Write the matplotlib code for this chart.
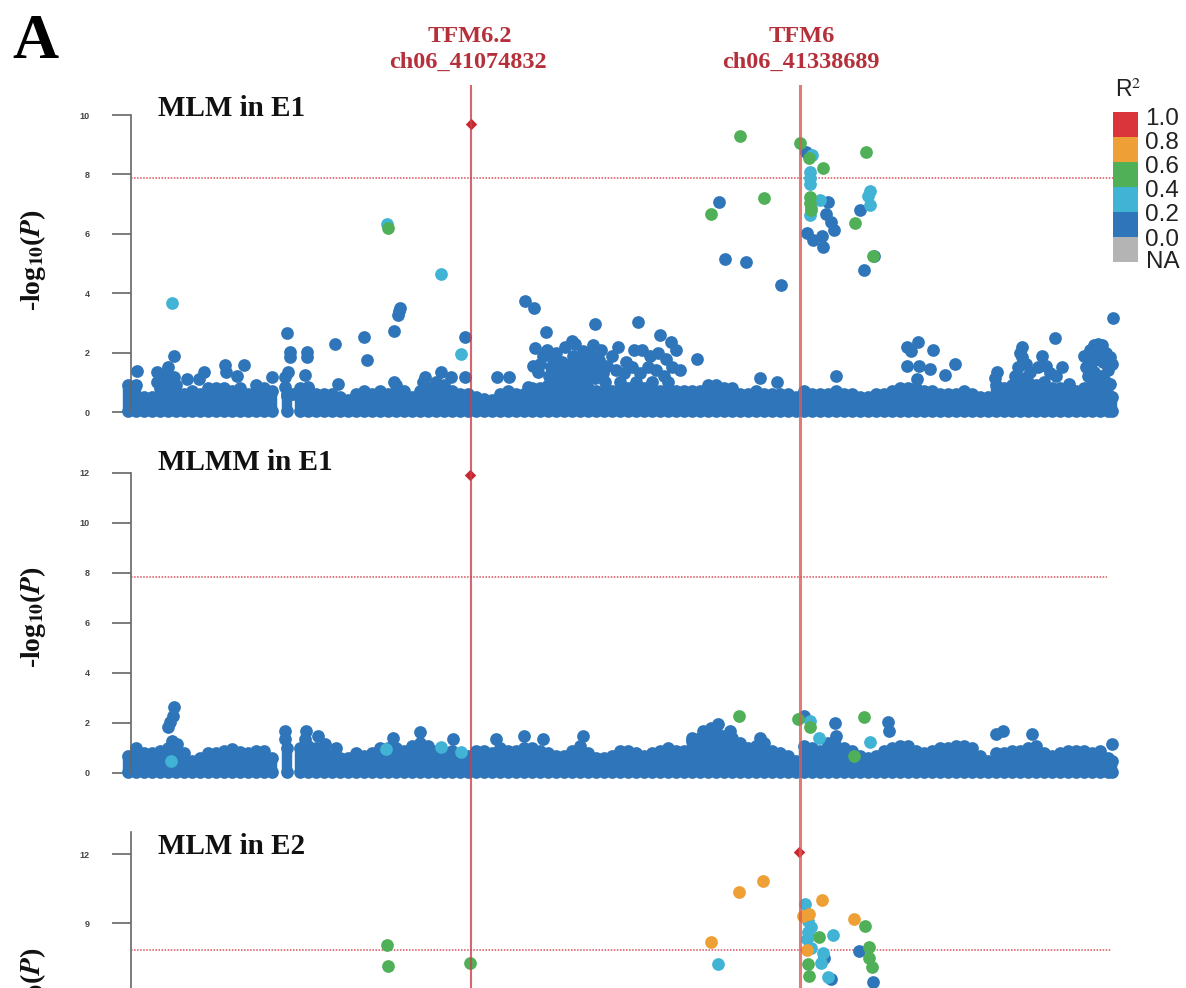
import matplotlib
matplotlib.use('Agg')
import matplotlib.pyplot as plt

plt.rcParams['font.family'] = ['Liberation Serif', 'DejaVu Serif']
plt.rcParams['mathtext.fontset'] = 'stix'

W, H = 1186, 988

BLUE = '#2e75b9'
LBLUE = '#41b3d5'
GREEN = '#50b058'
ORANGE = '#ee9f35'
RED = '#c9282f'
GREY = '#b4b4b4'
legend_colors = [GREY, BLUE, LBLUE, GREEN, ORANGE, '#d9353a']
legend_labels = ['NA', '0.0', '0.2', '0.4', '0.6', '0.8', '1.0']
legend_label_pos = [0.0, 0.147, 0.313, 0.473, 0.633, 0.793, 0.953]

# map position of the SNPs (no axis scale in the figure, so arbitrary units)
tfm_pos = [471, 800]

# the dense band of SNPs close to zero: position and height of the top of the band
base_x = [128, 136, 144, 152, 160, 168, 176, 184, 192, 200, 208, 216, 224, 232, 240, 248, 256, 264, 272, 287,
          300, 308, 316, 324, 332, 340, 348, 356, 364, 372, 380, 388, 396, 404, 412, 420, 428, 436, 444, 452,
          460, 468, 476, 484, 492, 500, 508, 516, 524, 532, 540, 548, 556, 564, 572, 580, 588, 596, 604, 612,
          620, 628, 636, 644, 652, 660, 668, 676, 684, 692, 700, 708, 716, 724, 732, 740, 748, 756, 764, 772,
          780, 788, 796, 804, 812, 820, 828, 836, 844, 852, 860, 868, 876, 884, 892, 900, 908, 916, 924, 932,
          940, 948, 956, 964, 972, 980, 988, 996, 1004, 1012, 1020, 1028, 1036, 1044, 1052, 1060, 1068, 1076,
          1084, 1092, 1100, 1108, 1112]
e1_mlm_top = [.9, .9, .5, .5, .8, .9, .9, .6, .7, .6, .8, .8, .8, .7, .8, .6, .7, .8, .7, .6,
              .8, .8, .6, .6, .6, .5, .4, .6, .7, .6, .7, .6, .9, .7, .5, .7, .8, .9, .9, .7,
              .6, .6, .5, .45, .4, .6, .7, .6, .6, .8, .8, .9, .9, .9, .9, .8, .8, .7, .7, .7,
              .7, .8, .8, .8, .7, .7, .8, .7, .7, .7, .7, .9, .9, .8, .8, .6, .6, .7, .6, .6,
              .6, .6, .5, .7, .6, .6, .6, .7, .6, .6, .5, .5, .6, .6, .7, .8, .8, .8, .7, .7,
              .6, .6, .6, .7, .6, .5, .5, .9, .8, .9, 1.1, 1.0, .9, 1.0, .8, .8, .7, .7,
              .8, .9, .9, .6, .5]
e1_mlmm_top = [.7, 1.0, .8, .8, .9, 1.0, 1.1, .8, .5, .6, .8, .8, .9, .95, .85, .8, .9, .9, .6, 1.0,
               1.0, 1.1, 1.0, .9, .7, .6, .6, .8, .7, .8, 1.0, 1.0, 1.0, .9, 1.1, 1.2, 1.1, .9, .8, .9,
               .6, .7, .9, .9, .8, 1.0, .9, .9, 1.0, 1.0, .9, .8, .7, .7, .9, 1.1, .8, .6, .6, .7,
               .9, .9, .8, .7, .8, .9, 1.0, .9, .9, 1.3, 1.4, 1.6, 1.7, 1.5, 1.4, 1.2, 1.0, 1.1, 1.2, .9,
               .8, .7, .5, 1.1, 1.0, .9, 1.2, 1.5, 1.0, .9, .7, .6, .7, .9, 1.0, 1.1, 1.1, .9, .8, .9,
               1.0, 1.0, 1.1, 1.1, 1.0, .7, .5, .8, .8, .9, .9, 1.0, 1.1, .8, .7, .8, .9, .9,
               .9, .8, .9, .6, .5]

# MLM in E1, single points above the band
e1_mlm_blue_x = [137, 157, 168, 174, 204, 225, 237, 244, 287, 290, 290, 288, 307, 307, 305, 335, 338, 364, 367,
                 394, 398, 399, 400, 465, 465, 441, 451, 425, 497, 509, 525, 534, 546, 535, 595, 528, 612, 618,
                 626, 634, 642, 650, 658, 666, 672, 680, 616, 624, 632, 640, 648, 656, 664, 620, 636, 652, 668,
                 638, 572, 660, 671, 676, 697, 1113, 1055, 918, 907, 911, 933, 955, 907, 919, 930, 945, 917,
                 760, 836, 777, 1069, 719, 725, 746, 781, 864, 860, 828, 806, 826, 831, 834, 807, 813, 822, 823,
                 874,
                 157, 164, 174, 187, 199, 226, 256, 272, 285, 285, 287, 293, 308, 394, 423, 436]
e1_mlm_blue_y = [1.39, 1.34, 1.5, 1.89, 1.36, 1.59, 1.22, 1.59, 2.65, 2.03, 1.84, 1.34, 2.03, 1.84, 1.25, 2.3, .95,
                 2.54, 1.76, 2.73, 3.28, 3.4, 3.5, 2.54, 1.17, 1.36, 1.17, 1.17, 1.17, 1.17, 3.73, 3.5, 2.7, 2.17,
                 2.95, .84, 1.9, 2.2, 1.7, 2.1, 2.1, 1.9, 2.0, 1.8, 1.5, 1.4, 1.4, 1.3, 1.5, 1.3, 1.5, 1.4, 1.2,
                 1.0, 1.0, 1.0, 1.0, 3.03, 2.4, 2.6, 2.35, 2.1, 1.8, 3.16, 2.49, 2.36, 2.2, 2.05, 2.1, 1.62, 1.55,
                 1.55, 1.45, 1.25, 1.1, 1.14, 1.2, 1.0, .93, 7.07, 5.15, 5.05, 4.27, 4.78, 6.8, 7.07, 8.75, 6.67,
                 6.4, 6.13, 6.03, 5.8, 5.93, 5.55, 5.25,
                 1.0, 1.17, 1.17, 1.1, 1.1, 1.33, .9, 1.17, 1.17, .85, .55, .6, .85, 1.0, 1.0, 1.0]
# clump of points near 580 in the MLM panel
e1_blob_x = [533, 538, 540, 543, 547, 549, 551, 553, 556, 558, 560, 562, 565, 567, 569, 571, 573, 575, 577, 579,
             581, 583, 585, 587, 589, 591, 593, 595, 597, 599, 601, 603, 605, 607]
e1_blob_y = [1.55, 1.35, 1.6, 1.9, 2.1, 1.2, 1.5, 1.8, 2.0, 1.1, 1.4, 1.7, 2.2, 1.0, 1.3, 1.6, 1.9, 2.3, 1.15, 1.45,
             1.75, 2.05, 1.0, 1.3, 1.6, 1.9, 2.25, 1.15, 1.45, 1.75, 2.1, 1.3, 1.0, 1.55]
# the same near the right end
e1_right_x = [997, 995, 1015, 1018, 1022, 1022, 1020, 1026, 1030, 1024, 1042, 1038, 1046, 1050, 1062, 1056, 1084,
              1086, 1088, 1090, 1094, 1098, 1102, 1106, 1110, 1112, 1092, 1097, 1103, 1108, 1094, 1100, 1105, 1110,
              1092]
e1_right_y = [1.35, 1.15, 1.2, 1.5, 1.85, 2.2, 2.0, 1.6, 1.35, 1.15, 1.9, 1.5, 1.55, 1.3, 1.5, 1.2, 1.9,
              1.5, 1.2, 2.1, 2.25, 2.3, 2.25, 2.0, 1.85, 1.6, 1.7, 1.9, 1.7, 1.4, 1.35, 1.2, 1.05, .95,
              1.05]
e1_mlm_lblue_x = [172, 387, 441, 461, 812, 810, 810, 810, 870, 868, 870, 810, 811, 820]
e1_mlm_lblue_y = [3.67, 6.33, 4.65, 1.95, 8.65, 8.08, 7.88, 7.68, 7.44, 7.27, 6.97, 6.63, 6.87, 7.14]
e1_mlm_green_x = [388, 740, 800, 866, 823, 711, 764, 855, 873, 810, 810, 811, 809]
e1_mlm_green_y = [6.2, 9.29, 9.05, 8.75, 8.2, 6.67, 7.2, 6.35, 5.25, 7.24, 7.04, 6.8, 8.55]

# MLMM in E1
e1_mlmm_blue_x = [174, 173, 170, 168, 172, 177, 285, 285, 306, 305, 318, 325, 336, 393, 420, 453, 496, 524, 543,
                  583, 804, 888, 889, 835, 1112, 1003, 996, 1032, 718, 711, 692, 730, 760, 703]
e1_mlmm_blue_y = [2.65, 2.3, 2.05, 1.85, 1.3, 1.15, 1.7, 1.35, 1.7, 1.35, 1.5, 1.15, 1.0, 1.4, 1.65, 1.35, 1.35,
                  1.5, 1.35, 1.5, 2.3, 2.05, 1.7, 2.0, 1.15, 1.7, 1.55, 1.55, 1.95, 1.8, 1.4, 1.7, 1.4, 1.7]
e1_mlmm_lblue_x = [171, 386, 441, 461, 810, 819, 870]
e1_mlmm_lblue_y = [.5, .95, 1.05, .85, 2.08, 1.4, 1.23]
e1_mlmm_green_x = [739, 798, 864, 854, 810]
e1_mlmm_green_y = [2.3, 2.15, 2.25, .67, 1.85]

# MLM in E2
e2_blue_x = [859, 873, 824, 831]
e2_blue_y = [7.78, 6.43, 7.48, 6.57]
e2_lblue_x = [718, 805, 811, 808, 807, 811, 833, 823, 821, 828, 808]
e2_lblue_y = [7.2, 9.83, 8.83, 8.6, 8.3, 7.9, 8.48, 7.7, 7.26, 6.65, 9.1]
e2_green_x = [865, 819, 869, 869, 872, 808, 809, 387, 388, 470]
e2_green_y = [8.87, 8.4, 7.96, 7.48, 7.1, 7.2, 6.7, 8.04, 7.13, 7.26]
e2_orange_x = [739, 763, 822, 854, 711, 809, 803, 807]
e2_orange_y = [10.35, 10.83, 10.0, 9.17, 8.17, 9.4, 9.3, 7.83]

lead_x = [471, 470, 799]
lead_y = [9.7, 11.9, 12.1]
threshold = [7.88, 7.84, 7.83]

xlim = (131, 1115)


def axes_px(left, top, right, bottom):
    return fig.add_axes([left / W, 1 - bottom / H, (right - left) / W, (bottom - top) / H])


def setup(ax, ymin, ymax, ticks, thr, thr_end, title, title_y, label_y):
    ax.set_xlim(xlim)
    ax.set_ylim(ymin, ymax)
    ax.patch.set_alpha(0)
    for s in ['top', 'right', 'bottom']:
        ax.spines[s].set_visible(False)
    ax.spines['left'].set_color('#666666')
    ax.spines['left'].set_linewidth(1.2)
    ax.set_xticks([])
    ax.set_yticks(ticks)
    ax.tick_params(axis='y', length=13.5, width=1.2, color='#666666', pad=16, labelsize=6.5, labelcolor='#444444')
    for t in ax.get_yticklabels():
        t.set_family('Liberation Sans')
        t.set_fontweight('bold')
    ax.hlines(thr, xlim[0], thr_end, color='#d8505c', lw=1.1, ls=(0, (1, 1)), zorder=1)
    fig.text(158 / W, 1 - title_y / H, title, fontsize=21, fontweight='bold', va='center', ha='left', color='#111111')
    fig.text(33 / W, 1 - label_y / H, r'-log$_{\mathbf{10}}$($\mathbfit{P}$)', fontsize=20, fontweight='bold',
             rotation=90, va='center', ha='center', color='#111111')


def dots(ax, x, y, color, z=3):
    ax.scatter(x, y, s=84, color=color, linewidths=0, clip_on=False, zorder=z)


def band(ax, tops):
    ax.vlines(base_x, 0.05, tops, color=BLUE, lw=7.5, zorder=2, clip_on=False)
    dots(ax, base_x, tops, BLUE, 2)
    dots(ax, base_x, [0.05] * len(base_x), BLUE, 2)


fig = plt.figure(figsize=(W / 100, H / 100), dpi=100)

# MLM in E1
ax1 = axes_px(131, 115, 1115, 412)
setup(ax1, 0, 10, [0, 2, 4, 6, 8, 10], threshold[0], 1113, 'MLM in E1', 108, 260)
band(ax1, e1_mlm_top)
dots(ax1, e1_mlm_blue_x, e1_mlm_blue_y, BLUE)
dots(ax1, e1_blob_x, e1_blob_y, BLUE)
dots(ax1, e1_right_x, e1_right_y, BLUE)
dots(ax1, e1_mlm_lblue_x, e1_mlm_lblue_y, LBLUE, 4)
dots(ax1, e1_mlm_green_x, e1_mlm_green_y, GREEN, 5)

# MLMM in E1
ax2 = axes_px(131, 473, 1115, 773)
setup(ax2, 0, 12, [0, 2, 4, 6, 8, 10, 12], threshold[1], 1107, 'MLMM in E1', 462, 617)
band(ax2, e1_mlmm_top)
dots(ax2, e1_mlmm_blue_x, e1_mlmm_blue_y, BLUE)
dots(ax2, e1_mlmm_lblue_x, e1_mlmm_lblue_y, LBLUE, 4)
dots(ax2, e1_mlmm_green_x, e1_mlmm_green_y, GREEN, 5)

# MLM in E2, runs off the bottom of the picture
ax3 = axes_px(131, 832, 1115, 1130)
setup(ax3, 0, 12.96, [6, 9, 12], threshold[2], 1111, 'MLM in E2', 846, 998)
dots(ax3, e2_blue_x, e2_blue_y, BLUE)
dots(ax3, e2_lblue_x, e2_lblue_y, LBLUE, 4)
dots(ax3, e2_green_x, e2_green_y, GREEN, 5)
dots(ax3, e2_orange_x, e2_orange_y, ORANGE, 4)

for ax, x, y in zip([ax1, ax2, ax3], lead_x, lead_y):
    ax.scatter([x], [y], s=34, marker='D', color=RED, linewidths=0, clip_on=False, zorder=6)

# the two red lines go through all panels
ov = axes_px(131, 85, 1115, 988)
ov.set_xlim(xlim)
ov.axis('off')
ov.axvline(tfm_pos[0], color='#c8404c', lw=1.5, alpha=0.8)
ov.axvline(tfm_pos[1], color='#dc5a55', lw=2.2, alpha=0.8)

# R2 legend
leg = axes_px(1113, 112, 1138, 262)
leg.bar([0] * 6, [1] * 6, bottom=range(6), width=1, color=legend_colors)
leg.set_xlim(-0.5, 0.5)
leg.set_ylim(0, 6)
leg.set_xticks([])
leg.set_yticks([])
for s in leg.spines.values():
    s.set_visible(False)
for lab, pos in zip(legend_labels, legend_label_pos):
    leg.text(1.3, pos, lab, transform=leg.transAxes, family='Liberation Sans',
             fontsize=17.5, color='#222222', ha='left', va='center')
fig.text(1128 / W, 1 - 90 / H, 'R$^2$', family='Liberation Sans', fontsize=16.5, color='#222222', ha='center', va='center')

# top labels
fig.text(35 / W, 1 - 43 / H, 'A', fontsize=46, fontweight='bold', ha='center', va='center', color='black')
fig.text(470 / W, 1 - 36 / H, 'TFM6.2', fontsize=17.5, fontweight='bold', ha='center', va='center', color='#b5303a')
fig.text(468 / W, 1 - 62 / H, 'ch06_41074832', fontsize=17.5, fontweight='bold', ha='center', va='center', color='#b5303a')
fig.text(802 / W, 1 - 36 / H, 'TFM6', fontsize=17.5, fontweight='bold', ha='center', va='center', color='#b5303a')
fig.text(801 / W, 1 - 62 / H, 'ch06_41338689', fontsize=17.5, fontweight='bold', ha='center', va='center', color='#b5303a')

fig.savefig('out.png', dpi=100, facecolor='white')
